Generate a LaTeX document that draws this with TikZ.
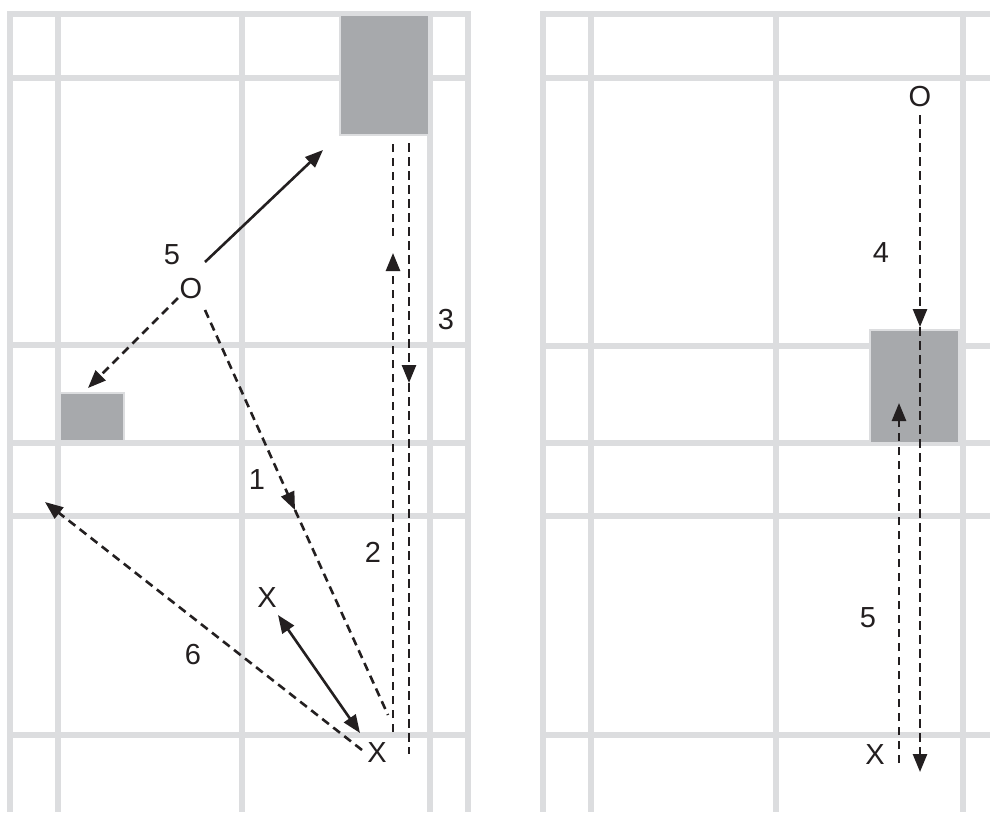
\documentclass[tikz,border=0pt]{standalone}
\usepackage{fontspec}
\setmainfont{Liberation Sans}
\usetikzlibrary{arrows.meta}
\definecolor{gridc}{HTML}{DCDDDF}
\definecolor{boxc}{HTML}{A7A9AC}
\definecolor{ink}{HTML}{231F20}
\tikzset{
  gridline/.style={draw=gridc, line width=5.5pt},
  block/.style={fill=boxc, draw=gridc, line width=2.5pt},
  lbl/.style={text=ink, font=\fontsize{29}{32}\selectfont, inner sep=0pt},
  tipend/.style={-{Triangle[length=18pt,width=14pt]}},
  tipboth/.style={{Triangle[length=18pt,width=14pt]}-{Triangle[length=18pt,width=14pt]}},
  dline/.style={draw=ink, line width=2.6pt, dash pattern=on 8.5pt off 5.5pt},
  sline/.style={draw=ink, line width=2.6pt},
}
\begin{document}
\begin{tikzpicture}[x=1pt,y=-1pt]
\useasboundingbox (0,0) rectangle (990,812);
\fill[white] (0,0) rectangle (990,812);
\begin{scope}
\clip (0,0) rectangle (990,812);
% left panel grid
\foreach \x in {10,58,242,430,468} \draw[gridline] (\x,14) -- (\x,812);
\draw[gridline] (7.25,14) -- (470.75,14);
\foreach \y in {78,345,443,516,735} \draw[gridline] (10,\y) -- (468,\y);
% right panel grid
\foreach \x in {543,591,776,963} \draw[gridline] (\x,14) -- (\x,812);
\draw[gridline] (540.25,14) -- (990,14);
\foreach \y in {78,346,443,516,735} \draw[gridline] (543,\y) -- (990,\y);
\end{scope}
% blocks
\draw[block] (340,15) rectangle (429,135);
\draw[block] (60,393) rectangle (124,441);
\draw[block] (870,330) rectangle (959,443);

% labels left
\node[lbl] (O1) at (191,289) {O};
\node[lbl] (n5a) at (172,255) {5};
\node[lbl] (n3) at (446,320) {3};
\node[lbl] (n1) at (257,480) {1};
\node[lbl] (n2) at (373,552) {2};
\node[lbl] (X1) at (267,598) {X};
\node[lbl] (n6) at (193,655) {6};
\node[lbl] (X2) at (377,753) {X};
% labels right
\node[lbl] (O2) at (920,97) {O};
\node[lbl] (n4) at (881,253) {4};
\node[lbl] (n5b) at (868,618) {5};
\node[lbl] (X3) at (875,755) {X};

% coordinates for connector ends
\coordinate (a0) at (205,262); \coordinate (a1) at (323,150);
\coordinate (b0) at (178,298); \coordinate (b1) at (88,388);
\coordinate (c0) at (205,310); \coordinate (cm) at (295,510); \coordinate (c1) at (388,715);
\coordinate (d0) at (393,732); \coordinate (dm) at (393,253); \coordinate (dn) at (393,236); \coordinate (d1) at (393,143);
\coordinate (e0) at (409,143); \coordinate (em) at (409,383); \coordinate (e1) at (409,754);
\coordinate (f0) at (362,750); \coordinate (f1) at (45,502);
\coordinate (g0) at (278,615); \coordinate (g1) at (360,733);
\coordinate (h0) at (920,115); \coordinate (hm) at (920,327); \coordinate (h1) at (920,772);
\coordinate (i0) at (899,763); \coordinate (i1) at (899,403);

% left connectors
\draw[sline, tipend] (a0) -- (a1);
\draw[dline, tipend] (b0) -- (b1);
\draw[dline, tipend] (c0) -- (cm);
\draw[dline] (cm) -- (c1);
\draw[dline, tipend] (d0) -- (dm);
\draw[dline] (dn) -- (d1);
\draw[dline, tipend] (e0) -- (em);
\draw[dline] (em) -- (e1);
\draw[dline, tipend] (f0) -- (f1);
\draw[sline, tipboth] (g0) -- (g1);
% right connectors
\draw[dline, tipend] (h0) -- (hm);
\draw[dline, tipend] (hm) -- (h1);
\draw[dline, tipend] (i0) -- (i1);
\end{tikzpicture}
\end{document}
